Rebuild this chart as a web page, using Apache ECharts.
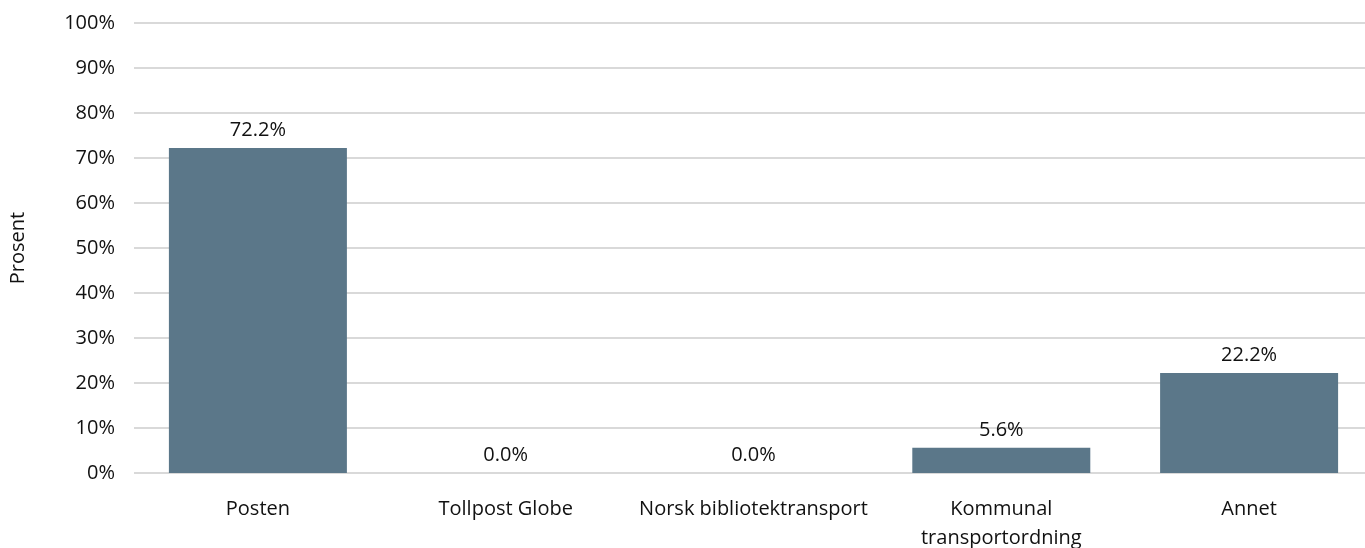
<!DOCTYPE html>
<html><head><meta charset="utf-8">
<script src="https://cdn.jsdelivr.net/npm/echarts@6/dist/echarts.min.js"></script>
<style>html,body{margin:0;padding:0;background:#fff}#c{width:1365px;height:548px}</style>
</head><body><div id="c"></div>
<script>
const categories = ['Posten', 'Tollpost Globe', 'Norsk bibliotektransport', 'Kommunal\ntransportordning', 'Annet'];
const values = [72.2, 0.0, 0.0, 5.6, 22.2];
const yAxisName = 'Prosent';
const FONT = "'Open Sans', 'Liberation Sans', sans-serif";
const chart = echarts.init(document.getElementById('c'), null, {renderer: 'canvas'});
chart.setOption({
  animation: false,
  grid: {left: 134, top: 23, width: 1239, height: 450, containLabel: false, outerBoundsMode: 'none'},
  xAxis: {
    type: 'category', data: categories,
    axisLine: {show: false}, axisTick: {show: false},
    axisLabel: {color: '#111', fontSize: 20, fontFamily: FONT, margin: 22, lineHeight: 29, interval: 0}
  },
  yAxis: {
    type: 'value', min: 0, max: 100, interval: 10,
    name: yAxisName, nameLocation: 'middle', nameGap: 106, nameRotate: 90,
    nameTextStyle: {color: '#111', fontSize: 20, fontFamily: FONT},
    axisLabel: {formatter: '{value}%', color: '#111', fontSize: 20, fontFamily: FONT, margin: 19},
    splitLine: {lineStyle: {color: '#d9d9d9', width: 2}},
    axisLine: {show: false}, axisTick: {show: false}
  },
  series: [{
    type: 'bar', data: values, barWidth: 178,
    itemStyle: {color: '#5b7789'},
    label: {show: true, position: 'top', distance: 8, color: '#111', fontSize: 20, fontFamily: FONT,
      formatter: p => p.value.toFixed(1) + '%'}
  }]
});
</script></body></html>
